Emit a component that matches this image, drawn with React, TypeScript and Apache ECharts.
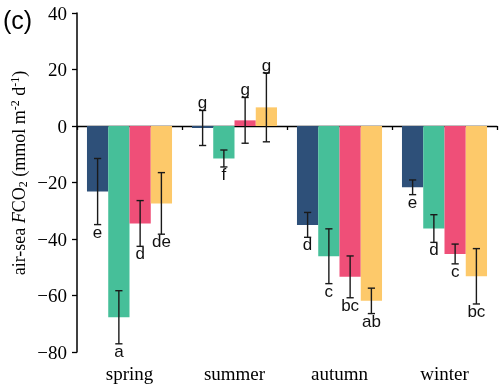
import React, { useEffect, useRef } from "react";
import * as echarts from "echarts";

const categories = ["spring", "summer", "autumn", "winter"];
const seriesNames = ["group A", "group B", "group C", "group D"];
const colors = ["#2e5079", "#46bf99", "#ef4f78", "#fdc96a"];

const blueValues = [-23.2, -0.7, -35.0, -21.7];
const blueErrors = [11.7, 6.2, 4.4, 2.6];
const blueLetters = ["e", "g", "d", "e"];

const greenValues = [-67.7, -11.5, -46.1, -36.3];
const greenErrors = [9.4, 3.0, 9.7, 4.9];
const greenLetters = ["a", "f", "c", "d"];

const pinkValues = [-34.5, 2.0, -53.4, -45.3];
const pinkErrors = [8.1, 8.1, 7.4, 3.5];
const pinkLetters = ["d", "g", "bc", "c"];

const yellowValues = [-27.4, 6.6, -61.9, -53.2];
const yellowErrors = [10.9, 12.2, 4.5, 9.8];
const yellowLetters = ["de", "g", "ab", "bc"];

// letter placement: "up" above error bar, "down" below
const blueLetterPos = ["down", "up", "down", "down"];
const greenLetterPos = ["down", "down", "down", "down"];
const pinkLetterPos = ["down", "up", "down", "down"];
const yellowLetterPos = ["down", "up", "down", "down"];

const yTicksMin = -80;
const yTicksMax = 40;
const yTickStep = 20;

const allValues = [blueValues, greenValues, pinkValues, yellowValues];
const allErrors = [blueErrors, greenErrors, pinkErrors, yellowErrors];
const allLetters = [blueLetters, greenLetters, pinkLetters, yellowLetters];
const allLetterPos = [blueLetterPos, greenLetterPos, pinkLetterPos, yellowLetterPos];

const CATEGORY_GAP = 0.19;

export default function App() {
  const ref = useRef<HTMLDivElement>(null);

  useEffect(() => {
    if (!ref.current) return;
    const chart = echarts.init(ref.current, null, { renderer: "svg" });

    const barSeries = allValues.map((vals, s) => ({
      name: seriesNames[s],
      type: "bar",
      xAxisIndex: 0,
      yAxisIndex: 0,
      data: vals,
      barGap: "0%",
      barCategoryGap: CATEGORY_GAP * 100 + "%",
      itemStyle: { color: colors[s] },
      z: 2,
    }));

    const errSeries = allValues.map((vals, s) => ({
      name: seriesNames[s] + " err",
      type: "custom",
      xAxisIndex: 0,
      yAxisIndex: 0,
      z: 5,
      data: vals.map((v, i) => [i, v, allErrors[s][i]]),
      renderItem: (params: any, api: any) => {
        const idx = api.value(0);
        const val = api.value(1);
        const e = api.value(2);
        const bandW = api.size([1, 0])[0];
        const barW = (bandW * (1 - CATEGORY_GAP)) / 4;
        const cx = api.coord([idx, 0])[0] + (s - 1.5) * barW;
        const yTop = api.coord([idx, val + e])[1];
        const yBot = api.coord([idx, val - e])[1];
        const cap = 3.6;
        const ls = { stroke: "#1a1a1a", lineWidth: 1.4 };
        const letter = allLetters[s][params.dataIndex];
        const pos = allLetterPos[s][params.dataIndex];
        return {
          type: "group",
          children: [
            { type: "line", shape: { x1: cx, y1: yTop, x2: cx, y2: yBot }, style: ls },
            { type: "line", shape: { x1: cx - cap, y1: yTop, x2: cx + cap, y2: yTop }, style: ls },
            { type: "line", shape: { x1: cx - cap, y1: yBot, x2: cx + cap, y2: yBot }, style: ls },
            {
              type: "text",
              x: cx,
              y: pos === "up" ? yTop + 1 : yBot - 1,
              style: {
                text: letter,
                fill: "#111",
                font: '17px "Liberation Sans", Arial, sans-serif',
                align: "center",
                verticalAlign: pos === "up" ? "bottom" : "top",
              },
            },
          ],
        };
      },
    }));

    const serif = '"Liberation Serif", "Times New Roman", serif';

    chart.setOption({
      animation: false,
      grid: { left: 77, right: 2, top: 13, bottom: 32 },
      xAxis: [
        {
          type: "category",
          data: categories,
          axisLine: { show: true, onZero: true, lineStyle: { color: "#000", width: 1.3 } },
          axisTick: { show: true, length: 4, inside: false, lineStyle: { color: "#000", width: 1.3 } },
          axisLabel: { show: false },
          splitLine: { show: false },
        },
        {
          type: "category",
          data: categories,
          position: "bottom",
          axisLine: { show: false, onZero: false },
          axisTick: { show: false },
          axisLabel: { show: true, margin: 12, fontFamily: serif, fontSize: 19, color: "#000" },
          splitLine: { show: false },
        },
      ],
      yAxis: {
        type: "value",
        min: yTicksMin,
        max: yTicksMax,
        interval: yTickStep,
        axisLine: { show: true, lineStyle: { color: "#000", width: 1.5 } },
        axisTick: { show: true, length: 5, lineStyle: { color: "#000", width: 1.3 } },
        axisLabel: {
          margin: 10,
          fontFamily: serif,
          fontSize: 19,
          color: "#000",
          formatter: (v: number) => String(v).replace("-", "\u2212"),
        },
        splitLine: { show: false },
      },
      graphic: [
        {
          type: "text",
          left: 3,
          top: 7,
          style: {
            text: "(c)",
            fill: "#000",
            font: '25px "Liberation Sans", Arial, sans-serif',
          },
        },
        {
          type: "text",
          x: 19,
          y: 173,
          rotation: Math.PI / 2,
          style: {
            text: "{n|air-sea }{i|F}{n|CO}{sub|2}{n| (mmol m}{sup|-2}{n| d}{sup|-1}{n|)}",
            align: "center",
            verticalAlign: "middle",
            fill: "#000",
            rich: {
              n: { fontFamily: serif, fontSize: 18, lineHeight: 20, verticalAlign: "middle", fill: "#000" },
              i: { fontFamily: serif, fontSize: 18, fontStyle: "italic", lineHeight: 20, verticalAlign: "middle", fill: "#000" },
              sub: { fontFamily: serif, fontSize: 12, lineHeight: 12, verticalAlign: "bottom", fill: "#000" },
              sup: { fontFamily: serif, fontSize: 12, lineHeight: 12, verticalAlign: "top", fill: "#000" },
            },
          },
        },
      ],
      series: [...barSeries, ...errSeries],
    });

    return () => chart.dispose();
  }, []);

  return (
    <div
      ref={ref}
      style={{ position: "fixed", left: 0, top: 0, width: 499, height: 384 }}
    />
  );
}
